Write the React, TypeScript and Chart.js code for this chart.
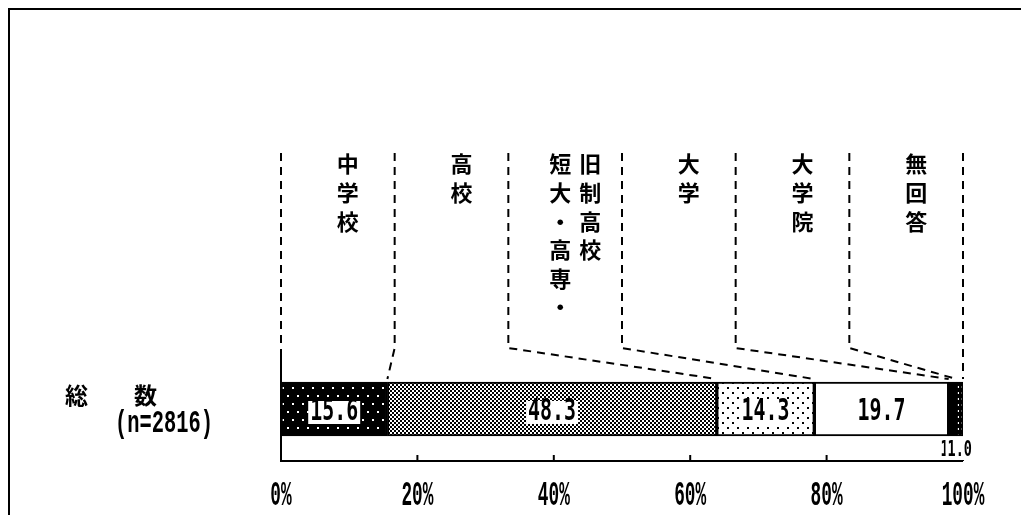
import React, { useEffect, useRef } from 'react';
import { Chart, registerables } from 'chart.js';

Chart.register(...registerables);

// Education level categories, left to right along the bar
const categories = ['中学校', '高校', '短大・高専・旧制高校', '大学', '大学院', '無回答'];
// Vertical header text for each category column (columns read right to left)
const headerColumns: string[][] = [
  ['中学校'],
  ['高校'],
  ['旧制高校', '短大・高専・'],
  ['大学'],
  ['大学院'],
  ['無回答'],
];
// Percent shares
const values = [15.6, 48.3, 14.3, 19.7, 1.1, 1.0];
const rowTitle = '総　　数';
const rowCount = '(n=2816)';
const xTickStep = 20;

const CJK = '"Noto Sans CJK JP", "Noto Sans CJK SC", sans-serif';
const MONO_SERIF = '"Liberation Mono", "DejaVu Sans Mono", monospace';
const MONO_SANS = '"DejaVu Sans Mono", "Liberation Mono", monospace';

function tile(
  ctx: CanvasRenderingContext2D,
  w: number,
  h: number,
  bg: string,
  fg: string,
  dots: [number, number, number][]
): CanvasPattern | string {
  const c = document.createElement('canvas');
  c.width = w;
  c.height = h;
  const g = c.getContext('2d')!;
  g.fillStyle = bg;
  g.fillRect(0, 0, w, h);
  g.fillStyle = fg;
  dots.forEach(([x, y, s]) => g.fillRect(x, y, s, s));
  return ctx.createPattern(c, 'repeat') || bg;
}

// Stretched text helper: baseline-anchored, scaled about its anchor
function drawText(
  ctx: CanvasRenderingContext2D,
  text: string,
  x: number,
  y: number,
  font: string,
  sx: number,
  sy: number,
  align: CanvasTextAlign,
  box = false
) {
  ctx.save();
  ctx.translate(x, y);
  ctx.scale(sx, sy);
  ctx.font = font;
  ctx.textAlign = align;
  ctx.textBaseline = 'alphabetic';
  if (box) {
    const w = ctx.measureText(text).width;
    const left = align === 'center' ? -w / 2 : align === 'right' ? -w : 0;
    ctx.fillStyle = '#ffffff';
    ctx.fillRect(left - 2 / sx, -19 / sy, w + 4 / sx, 23 / sy);
  }
  ctx.fillStyle = '#000000';
  ctx.fillText(text, 0, 0);
  ctx.restore();
}

const overlay = {
  id: 'surveyOverlay',
  afterDraw(chart: any) {
    const ctx: CanvasRenderingContext2D = chart.ctx;
    const xs = chart.scales.x;
    const area = chart.chartArea;
    const bar0 = chart.getDatasetMeta(0).data[0];
    const barTop = bar0.y - bar0.height / 2;
    const barY = bar0.y;

    // cumulative boundaries between segments
    const cum: number[] = [0];
    values.forEach((v) => cum.push(cum[cum.length - 1] + v));

    // dashed guide lines from header columns down to segment boundaries
    ctx.save();
    ctx.strokeStyle = '#000';
    ctx.lineWidth = 2;
    ctx.setLineDash([8, 6]);
    const n = categories.length;
    for (let k = 0; k <= n; k++) {
      const colX = xs.getPixelForValue((100 * k) / n);
      const bx = xs.getPixelForValue(k === n ? 100 : cum[k]);
      ctx.beginPath();
      ctx.moveTo(colX, 153);
      ctx.lineTo(colX, 348);
      ctx.lineTo(bx, barTop - 3);
      ctx.stroke();
    }
    ctx.restore();

    // vertical header text
    ctx.save();
    ctx.fillStyle = '#000';
    ctx.font = `bold 22px ${CJK}`;
    ctx.textAlign = 'center';
    ctx.textBaseline = 'middle';
    headerColumns.forEach((cols, k) => {
      const c0 = xs.getPixelForValue((100 * k) / n);
      const c1 = xs.getPixelForValue((100 * (k + 1)) / n);
      const center = (c0 + c1) / 2 + 10;
      cols.forEach((col, j) => {
        const cx = center + (cols.length - 1) * 15 - j * 30;
        Array.from(col).forEach((ch, i) => {
          ctx.fillText(ch, cx, 164 + i * 28.6);
        });
      });
    });
    ctx.restore();

    // axis lines and upward ticks
    ctx.save();
    ctx.strokeStyle = '#000';
    ctx.lineWidth = 2;
    ctx.beginPath();
    ctx.moveTo(area.left, area.top);
    ctx.lineTo(area.left, area.bottom);
    ctx.lineTo(area.right, area.bottom);
    ctx.stroke();
    xs.ticks.forEach((t: any) => {
      if (t.value === 0) return;
      const px = xs.getPixelForValue(t.value);
      ctx.beginPath();
      ctx.moveTo(px, area.bottom);
      ctx.lineTo(px, area.bottom - 6);
      ctx.stroke();
    });
    ctx.restore();

    // tick labels
    xs.ticks.forEach((t: any) => {
      const px = xs.getPixelForValue(t.value);
      drawText(ctx, `${t.value}%`, px, area.bottom + 44, `bold 24px ${MONO_SERIF}`, 0.74, 1.45, 'center');
    });

    // row label
    ctx.save();
    ctx.fillStyle = '#000';
    ctx.font = `bold 23px ${CJK}`;
    ctx.textAlign = 'left';
    ctx.textBaseline = 'middle';
    ctx.fillText(rowTitle, area.left - 216, barY - 14);
    ctx.restore();
    drawText(ctx, rowCount, area.left - 68, barY + 23, `bold 24px ${MONO_SERIF}`, 0.85, 1.3, 'right');

    // value labels
    values.forEach((v, i) => {
      const el = chart.getDatasetMeta(i).data[0];
      const cx = (el.x + el.base) / 2;
      const txt = v.toFixed(1);
      if (v >= 5) {
        drawText(ctx, txt, cx, barY + 11, `bold 24px ${MONO_SANS}`, 0.83, 1.25, 'center', true);
      } else {
        drawText(ctx, txt, cx - 12, el.y + el.height / 2 + 20, `bold 18px ${MONO_SANS}`, 0.75, 1.15, 'left', i === values.length - 1);
      }
    });
  },
};

export default function App() {
  const ref = useRef<HTMLCanvasElement | null>(null);

  useEffect(() => {
    const canvas = ref.current!;
    const ctx = canvas.getContext('2d')!;
    const fills: (string | CanvasPattern)[] = [
      tile(ctx, 10, 16, '#000000', '#ffffff', [[2, 3, 2], [7, 11, 2]]),
      tile(ctx, 4, 4, '#ffffff', '#000000', [[0, 0, 2], [2, 2, 2]]),
      tile(ctx, 10, 10, '#ffffff', '#000000', [[2, 2, 2], [7, 7, 2]]),
      '#ffffff',
      '#000000',
      tile(ctx, 4, 6, '#000000', '#ffffff', [[1, 2, 2]]),
    ];

    const chart = new Chart(canvas, {
      type: 'bar',
      data: {
        labels: [rowTitle],
        datasets: categories.map((c, i) => ({
          label: c,
          data: [values[i]],
          backgroundColor: fills[i] as any,
          borderColor: '#000000',
          borderWidth: 2,
          borderSkipped: false,
          barThickness: 54,
        })),
      },
      options: {
        indexAxis: 'y',
        animation: false,
        responsive: false,
        maintainAspectRatio: false,
        layout: { padding: { left: 281, right: 58, top: 357, bottom: 0 } },
        plugins: { legend: { display: false }, tooltip: { enabled: false } },
        scales: {
          x: {
            stacked: true,
            min: 0,
            max: 100,
            position: 'bottom',
            ticks: { stepSize: xTickStep, display: false },
            grid: { display: false },
            border: { display: false },
            afterFit: (s: any) => {
              s.height = 54;
            },
          },
          y: { stacked: true, display: false },
        },
      } as any,
      plugins: [overlay],
    });
    return () => chart.destroy();
  }, []);

  return (
    <div style={{ position: 'absolute', left: 0, top: 0, width: 1021, height: 515, overflow: 'hidden', background: '#fff' }}>
      <div
        style={{
          position: 'absolute',
          left: 8,
          top: 8,
          width: 1013,
          height: 507,
          boxSizing: 'border-box',
          borderLeft: '2px solid #000',
          borderTop: '2px solid #000',
        }}
      />
      <canvas ref={ref} width={1021} height={515} style={{ position: 'absolute', left: 0, top: 0 }} />
    </div>
  );
}
